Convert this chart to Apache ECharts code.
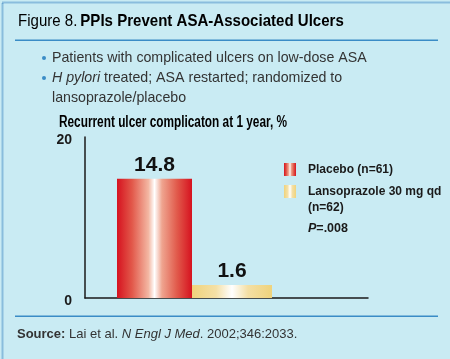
<!DOCTYPE html>
<html><head><meta charset="utf-8">
<script src="https://cdn.jsdelivr.net/npm/echarts@6/dist/echarts.min.js"></script>
<style>html,body{margin:0;padding:0;background:#c9ebf3}#c{width:450px;height:359px}</style>
</head><body><div id="c"></div>
<script>
const categories = [''];
const placeboValues = [14.8];
const lansoValues = [1.6];
const seriesNames = ['Placebo (n=61)', 'Lansoprazole 30 mg qd'];
const yTicks = [0, 20];

const SANS = "'Liberation Sans',Arial,sans-serif";

const ctx = document.createElement('canvas').getContext('2d');
function measure(parts) {
  let w = 0;
  parts.forEach(p => { ctx.font = p[1]; w += ctx.measureText(p[0]).width; });
  return w;
}
// scaled text: fits text parts into target width (reproduces condensed lettering)
function fitText(x, y, parts, target, rich, text) {
  const s = target / measure(parts);
  return {type: 'text', x: x, y: y, scaleX: s, scaleY: 1, originX: 0, originY: 0,
    style: {x: 0, y: 0, text: text, rich: rich, verticalAlign: 'middle'}};
}

const chart = echarts.init(document.getElementById('c'), null, {renderer: 'canvas'});
const redGrad = new echarts.graphic.LinearGradient(0, 0, 1, 0, [
  {offset: 0, color: '#d6121f'}, {offset: 0.2, color: '#e2584a'}, {offset: 0.42, color: '#f3b7a3'},
  {offset: 0.5, color: '#ffffff'}, {offset: 0.6, color: '#efa48f'}, {offset: 0.8, color: '#e15a4b'}, {offset: 1, color: '#d6121f'}]);
const yelGrad = new echarts.graphic.LinearGradient(0, 0, 1, 0, [
  {offset: 0, color: '#efd37c'}, {offset: 0.3, color: '#f4e0a6'}, {offset: 0.5, color: '#ffffff'},
  {offset: 0.7, color: '#f4dfa4'}, {offset: 1, color: '#efd37c'}]);

const titleRich = {a: {fontFamily: SANS, fontSize: 17, color: '#222'}, b: {fontFamily: SANS, fontSize: 17, fontWeight: 'bold', color: '#111'}};
const subRich = {b: {fontFamily: SANS, fontSize: 16, fontWeight: 'bold', color: '#111'}};
const labelStyle = {show: true, position: 'top', distance: 3, fontFamily: SANS, fontWeight: 'bold', fontSize: 21, color: '#111'};

chart.setOption({
  backgroundColor: '#c9ebf3',
  animation: false,
  grid: {left: 85, right: 82, top: 137, bottom: 61},
  xAxis: {type: 'category', data: categories, axisLine: {lineStyle: {color: '#1a1a1a', width: 1.5}},
    axisTick: {show: false}, axisLabel: {show: false}},
  yAxis: {type: 'value', min: yTicks[0], max: yTicks[1], interval: yTicks[1] - yTicks[0],
    axisLine: {show: true, lineStyle: {color: '#1a1a1a', width: 1.5}}, axisTick: {show: false},
    splitLine: {show: false},
    axisLabel: {color: '#1a1a1a', fontFamily: SANS, fontWeight: 'bold', fontSize: 14, margin: 13,
      verticalAlign: 'top', lineHeight: 7}},
  legend: {data: seriesNames, orient: 'vertical', left: 284, top: 163, padding: 0, itemWidth: 12, itemHeight: 13,
    itemGap: 9, selectedMode: false, icon: 'rect',
    textStyle: {fontFamily: SANS, fontWeight: 'bold', fontSize: 12, color: '#1a1a1a', padding: [0, 0, 0, 7]}},
  series: [
    {name: seriesNames[0], type: 'bar', data: placeboValues, barWidth: 75, barGap: 0,
      itemStyle: {color: redGrad}, label: labelStyle},
    {name: seriesNames[1], type: 'bar', data: lansoValues, barWidth: 80, barGap: 0,
      itemStyle: {color: yelGrad}, label: labelStyle},
    {name: 'spacer', type: 'bar', data: [null], barWidth: 64, barGap: 0, silent: true}
  ],
  graphic: [
    {type: 'rect', left: 0, top: 0, shape: {width: 449, height: 358}, style: {fill: 'none', stroke: '#4b8fc6', lineWidth: 2, lineDash: [1, 1]}, z: -1},
    fitText(18, 21, [['Figure 8. ', '17px Liberation Sans'], ['PPIs Prevent ASA-Associated Ulcers', 'bold 17px Liberation Sans']], 327,
      titleRich, '{a|Figure 8.} {b|PPIs Prevent ASA-Associated Ulcers}'),
    {type: 'rect', shape: {x: 15, y: 39.5, width: 423, height: 1.6}, style: {fill: '#3a8cc6'}},
    {type: 'circle', shape: {cx: 44, cy: 58, r: 2}, style: {fill: '#3a8cc6'}},
    {type: 'circle', shape: {cx: 44, cy: 78, r: 2}, style: {fill: '#3a8cc6'}},
    {type: 'text', left: 52, top: 51, style: {text: 'Patients with complicated ulcers on low-dose ASA', fontFamily: SANS, fontSize: 14.2, fill: '#333'}},
    {type: 'text', left: 52, top: 71, style: {text: '{i|H pylori} treated; ASA restarted; randomized to',
      rich: {i: {fontFamily: SANS, fontSize: 14.2, fontStyle: 'italic', color: '#333'}}, fontFamily: SANS, fontSize: 14.2, fill: '#333'}},
    {type: 'text', left: 52, top: 91, style: {text: 'lansoprazole/placebo', fontFamily: SANS, fontSize: 14.2, fill: '#333'}},
    fitText(59, 123, [['Recurrent ulcer complicaton at 1 year, %', 'bold 16px Liberation Sans']], 228,
      subRich, '{b|Recurrent ulcer complicaton at 1 year, %}'),
    {type: 'text', left: 308, top: 202, style: {text: '(n=62)', fontFamily: SANS, fontSize: 12, fontWeight: 'bold', fill: '#1a1a1a'}},
    {type: 'text', left: 308, top: 222, style: {text: '{i|P}=.008',
      rich: {i: {fontFamily: SANS, fontSize: 12.5, fontWeight: 'bold', fontStyle: 'italic', color: '#1a1a1a'}},
      fontFamily: SANS, fontSize: 12.5, fontWeight: 'bold', fill: '#1a1a1a'}},
    {type: 'rect', shape: {x: 15, y: 315.5, width: 423, height: 1.6}, style: {fill: '#3a8cc6'}},
    {type: 'text', left: 17, top: 328, style: {text: '{b|Source:} Lai et al. {i|N Engl J Med}. 2002;346:2033.',
      rich: {b: {fontFamily: SANS, fontSize: 13, fontWeight: 'bold', color: '#111'}, i: {fontFamily: SANS, fontSize: 13, fontStyle: 'italic', color: '#333'}},
      fontFamily: SANS, fontSize: 13, fill: '#333'}}
  ]
});
</script></body></html>
